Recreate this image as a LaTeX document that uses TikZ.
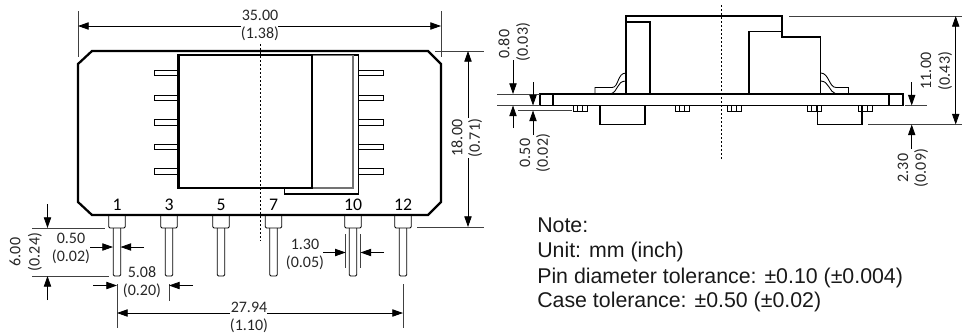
\documentclass[tikz,border=0pt]{standalone}
\usepackage{fontspec}
\setmainfont{Carlito}
\newfontfamily\notefont{Liberation Sans}
\usetikzlibrary{arrows.meta}
\tikzset{
  thickline/.style={line width=1.7pt,line join=miter},
  thinline/.style={line width=0.9pt},
  hairline/.style={line width=0.65pt},
  greyline/.style={line width=0.9pt,draw=black!55},
  centerline/.style={line width=0.7pt,dash pattern=on 1.5pt off 1.5pt},
  extline/.style={line width=0.6pt,draw=black!75},
  dimarrow/.style={line width=0.6pt,-{Triangle[length=8pt,width=5.5pt]}},
  dimboth/.style={line width=0.6pt,{Triangle[length=8pt,width=5.5pt]}-{Triangle[length=8pt,width=5.5pt]}},
  dimtext/.style={inner sep=0pt,font=\fontsize{12}{14}\selectfont,text=black!85},
  dimvert/.style={dimtext,rotate=90},
  pinlabel/.style={inner sep=0pt,font=\fontsize{13.3}{15}\selectfont},
  notetext/.style={inner sep=0pt,anchor=base west,font=\notefont\fontsize{16}{18}\selectfont,text=black!90}
}
\begin{document}
\begin{tikzpicture}[x=0.75pt,y=-0.75pt]
  \useasboundingbox (0,0) rectangle (962,333);
  % Case, front view
  \draw[thickline] (92,51) -- (428,51) -- (441,64) -- (441,202) -- (428,215) -- (92,215) -- (78,202) -- (78,64) -- cycle;
  \draw[thinline] (312,55) -- (358.7,55) -- (358.7,194) -- (284.7,194) -- (284.7,188);
  \draw[greyline] (312,55.5) -- (353,55.5) -- (353,188) -- (312,188);
  \draw[thickline] (178.5,55) rectangle (312,188);
  % Side pins
  \foreach \y in {70,95,119.5,144,168.5} {
    \draw[hairline] (178,\y) -- (154,\y) -- (154,\y+5.5) -- (178,\y+5.5);
    \draw[hairline] (358.7,\y) -- (383.7,\y) -- (383.7,\y+5.5) -- (358.7,\y+5.5);
  }
  % Bottom pins
  \foreach \x/\n in {117/1,169/3,221/5,273.5/7,353/10,403/12} {
    \draw[hairline,rounded corners=1pt] (\x-8.3,215) -- (\x-8.3,228) -- (\x+8.3,228) -- (\x+8.3,215);
    \draw[hairline,rounded corners=1pt] (\x-3.8,228) -- (\x-3.8,276) -- (\x+3.8,276) -- (\x+3.8,228);
    \node[pinlabel] (pin\n) at (\x,205) {\n};
  }
  % Center lines
  \draw[centerline] (260,44) -- (260,241);
  \draw[centerline] (721.5,5) -- (721.5,159);
  % Width 35.00
  \draw[extline] (78,11) -- (78,57);
  \draw[extline] (441,11) -- (441,57);
  \draw[dimarrow] (241,26) -- (78,26);
  \draw[dimarrow] (278,26) -- (441,26);
  \node[dimtext] (widthmm) at (260,15.5) {35.00};
  \node[dimtext] (widthin) at (260,34) {(1.38)};
  % Height 18.00
  \draw[extline] (435,51) -- (484,51);
  \draw[extline] (417,227) -- (484,227);
  \draw[dimarrow] (468,118) -- (468,51);
  \draw[dimarrow] (468,158) -- (468,227);
  \node[dimvert] (heightmm) at (457,138) {18.00};
  \node[dimvert] (heightin) at (475,138) {(0.71)};
  % Pin length 6.00
  \draw[extline] (32,228) -- (105,228);
  \draw[extline] (32,276) -- (109,276);
  \draw[dimarrow] (47.5,204) -- (47.5,228);
  \draw[dimarrow] (47.5,300) -- (47.5,276);
  \node[dimvert] (lengthmm) at (15,252) {6.00};
  \node[dimvert] (lengthin) at (35,252) {(0.24)};
  % Pin diameter 0.50
  \draw[dimarrow] (90,247) -- (113,247);
  \draw[dimarrow] (144,247) -- (120.5,247);
  \node[dimtext] (diammm) at (71,238) {0.50};
  \node[dimtext] (diamin) at (71,257) {(0.02)};
  % Pitch 5.08
  \draw[extline] (117,284) -- (117,328);
  \draw[extline] (169,284) -- (169,301);
  \draw[dimarrow] (93,285.5) -- (117,285.5);
  \draw[dimarrow] (193,285.5) -- (169,285.5);
  \node[dimtext] (pitchmm) at (142,272) {5.08};
  \node[dimtext] (pitchin) at (142,290.5) {(0.20)};
  % Pin span 27.94
  \draw[extline] (403,284) -- (403,328);
  \draw[dimarrow] (230,313) -- (117,313);
  \draw[dimarrow] (267,313) -- (403,313);
  \node[dimtext] (spanmm) at (249,307) {27.94};
  \node[dimtext] (spanin) at (249,326) {(1.10)};
  % Head width 1.30
  \draw[extline] (345.7,234) -- (345.7,268);
  \draw[extline] (360.5,234) -- (360.5,268);
  \draw[dimarrow] (323,252.5) -- (345.7,252.5);
  \draw[dimarrow] (384,252.5) -- (360.5,252.5);
  \node[dimtext] (headmm) at (305,244) {1.30};
  \node[dimtext] (headin) at (305,262.5) {(0.05)};
  % Case, side view
  \draw[thinline] (626,94) -- (626,16) -- (782,16) -- (782,37) -- (820.7,37) -- (820.7,94);
  \draw[thinline] (626,22) -- (650,22) -- (650,94);
  \draw[thinline] (749,94) -- (749,31.5) -- (782,31.5);
  % Board
  \draw[thinline] (540,94) rectangle (903,105.5);
  \draw[thinline] (553,94) -- (553,105.5);
  \draw[thinline] (889,94) -- (889,105.5);
  % Leads
  \draw[hairline] (595,94) -- (595,87.5) -- (612,87.5) .. controls (619,87.5) and (617,73) .. (626,73);
  \draw[hairline] (610,94) .. controls (619,92) and (616,81) .. (626,81);
  \draw[hairline] (848.5,94) -- (848.5,87.5) -- (836,87.5) .. controls (829,87.5) and (829,73) .. (820.7,73);
  \draw[hairline] (836,94) .. controls (829,92) and (829,81) .. (820.7,81);
  % Under the board
  \draw[thinline] (600,105.5) rectangle (645,124.5);
  \draw[thinline] (817.7,105.5) rectangle (862,124.5);
  \foreach \x in {573,675,727,807,858} {
    \draw[hairline] (\x,105.5) rectangle (\x+14,111);
    \draw[hairline] (\x+4.7,105.5) -- (\x+4.7,111);
    \draw[hairline] (\x+9.3,105.5) -- (\x+9.3,111);
  }
  % Board thickness 0.80
  \draw[extline] (497,94) -- (540,94);
  \draw[extline] (497,105.5) -- (540,105.5);
  \draw[dimarrow] (513,60) -- (513,94);
  \draw[dimarrow] (513,128) -- (513,105.5);
  \node[dimvert] (boardmm) at (504,44) {0.80};
  \node[dimvert] (boardin) at (523,42) {(0.03)};
  % Stand-off 0.50
  \draw[extline] (518,110.5) -- (572,110.5);
  \draw[dimarrow] (533,82) -- (533,105.5);
  \draw[dimarrow] (533,135) -- (533,110.5);
  \node[dimvert] (standmm) at (525,153) {0.50};
  \node[dimvert] (standin) at (543,153) {(0.02)};
  % Depth 2.30
  \draw[extline] (905,105.5) -- (927,105.5);
  \draw[extline] (868,124.5) -- (962,124.5);
  \draw[dimarrow] (911.7,82) -- (911.7,105.5);
  \draw[dimarrow] (911.7,149) -- (911.7,124.5);
  \node[dimvert] (depthmm) at (903,168) {2.30};
  \node[dimvert] (depthin) at (921,168) {(0.09)};
  % Overall height 11.00
  \draw[extline] (789,16) -- (962,16);
  \draw[dimboth] (955.7,16) -- (955.7,124.5);
  \node[dimvert] (totalmm) at (926,71) {11.00};
  \node[dimvert] (totalin) at (945,71) {(0.43)};
  % Note
  \node[notetext] (note) at (537,232) {Note:};
  \node[notetext] (unit) at (537,257) {Unit: mm (inch)};
  \node[notetext] (pintol) at (537,283) {Pin diameter tolerance: ±0.10 (±0.004)};
  \node[notetext] (casetol) at (537,307) {Case tolerance: ±0.50 (±0.02)};
\end{tikzpicture}
\end{document}
